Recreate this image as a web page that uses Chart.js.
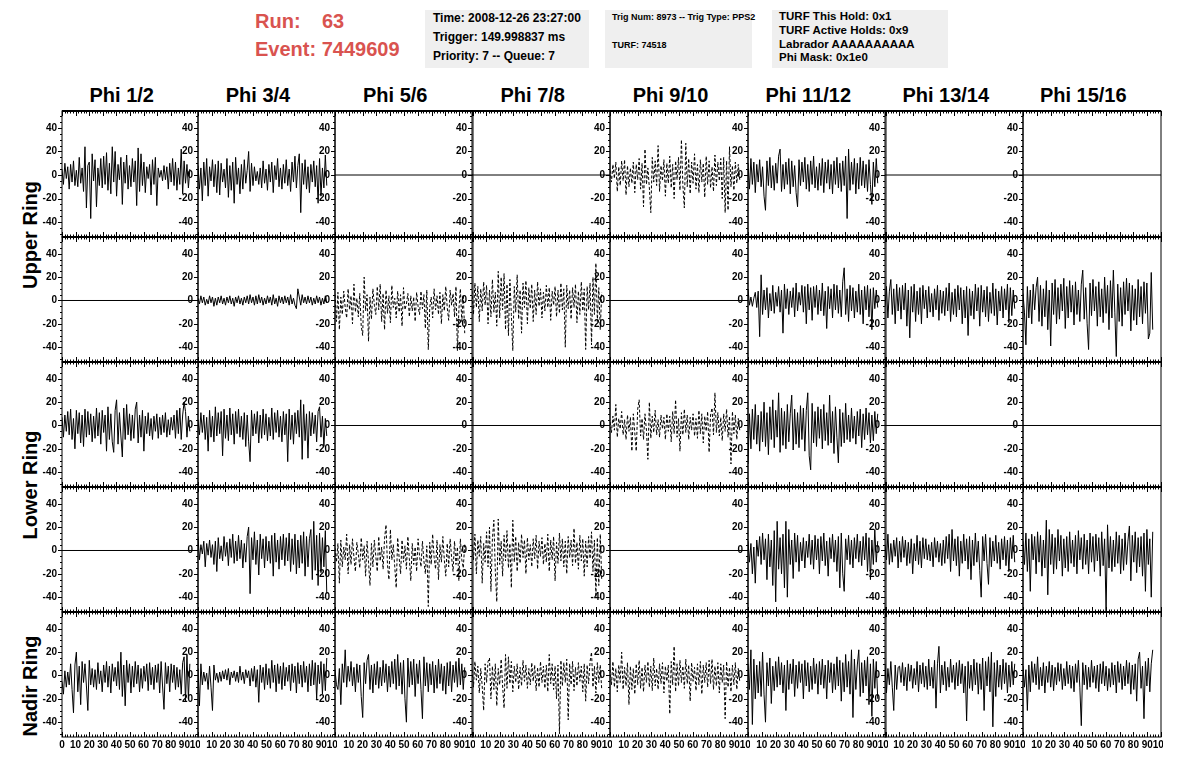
<!DOCTYPE html>
<html>
<head>
<meta charset="utf-8">
<script src="https://cdn.jsdelivr.net/npm/chart.js@4.4.0/dist/chart.umd.min.js"></script>
<style>
  body { margin: 0; background: #fff; width: 1196px; height: 772px; position: relative; overflow: hidden;
         font-family: "Liberation Sans", Arial, sans-serif; }
  .t { position: absolute; white-space: nowrap; color: #000; }
  .box { position: absolute; background: #efefef; }
  .red { color: #d9534f; font-size: 20px; font-weight: bold; }
  .b12 { font-weight: bold; font-size: 12px; }
  .b11 { font-weight: bold; font-size: 11.5px; }
  .b9 { font-weight: bold; font-size: 9px; }
  .col { font-weight: bold; font-size: 20px; transform: translateX(-50%); }
  .ring { font-weight: bold; font-size: 20px; transform: translate(-50%, -50%) rotate(-90deg); }
  canvas { position: absolute; }
</style>
</head>
<body>
<div class="t red" style="left:255px;top:10px">Run:</div>
<div class="t red" style="left:322px;top:10px">63</div>
<div class="t red" style="left:255px;top:38px">Event: 7449609</div>

<div class="box" style="left:425px;top:10px;width:164px;height:58px"></div>
<div class="t b12" style="left:433px;top:11px">Time: 2008-12-26 23:27:00</div>
<div class="t b12" style="left:433px;top:30px">Trigger: 149.998837 ms</div>
<div class="t b12" style="left:433px;top:49px">Priority: 7 -- Queue: 7</div>

<div class="box" style="left:605px;top:10px;width:147px;height:58px"></div>
<div class="t b9" style="left:612px;top:12px">Trig Num: 8973 -- Trig Type: PPS2</div>
<div class="t b9" style="left:612px;top:40px">TURF: 74518</div>

<div class="box" style="left:772px;top:10px;width:176px;height:58px"></div>
<div class="t b11" style="left:779px;top:10px">TURF This Hold: 0x1</div>
<div class="t b11" style="left:779px;top:24px">TURF Active Holds: 0x9</div>
<div class="t b11" style="left:779px;top:38px">Labrador AAAAAAAAAA</div>
<div class="t b11" style="left:779px;top:51px">Phi Mask: 0x1e0</div>

<div id="labels"></div>
<div id="grid"></div>

<script>
// column and row titles
const columnTitles = ['Phi 1/2', 'Phi 3/4', 'Phi 5/6', 'Phi 7/8', 'Phi 9/10', 'Phi 11/12', 'Phi 13/14', 'Phi 15/16'];
const ringTitles = ['Upper Ring', 'Lower Ring', 'Nadir Ring'];

// axis ticks
const xTicks = [0, 10, 20, 30, 40, 50, 60, 70, 80, 90, 100];
const yTicks = [-40, -20, 0, 20, 40];
const Y_MIN = -52.7, Y_MAX = 54.4;

// sample spacing (ns) – 90 samples per trace
const DT = 94 / 89;

// flat channels
const flat = [0, 0];

// Upper ring, top antennas
const u1_12 = [5,-8,10,-3,7,-12,9,-6,12,-9, 4,-10,15,-7,6,-14,24,-28,8,11, -37,18,-5,13,-27,6,-9,14,-11,16,
  -8,19,-13,10,-16,24,-6,20,-18,9, -4,15,-25,11,-7,17,-12,8,-10,14, -6,12,-26,23,-14,18,-9,11,-15,7,
  -3,9,-17,13,-8,15,-26,6,-2,4, -5,8,-4,7,-12,10,-6,14,-9,11, -13,6,-8,22,-16,12,-7,9,-11,5];
const u1_34 = [8,-12,6,-22,11,-9,14,-18,7,-5, 13,-10,9,-15,12,-17,10,-6,5,-11, 14,-19,8,-13,11,-24,15,-8,6,-16,
  9,-12,13,-7,4,20,-14,10,-9,7, -5,3,-8,6,-11,12,-7,5,-13,9, -6,11,-15,8,-4,14,-10,6,-12,9,
  -7,13,-9,5,-14,11,-6,16,-11,8, 18,-32,10,-8,13,-12,7,-15,9,-6, 12,-10,8,-24,14,-18,6,-11,17,-9];
const u1_910 = [4,-6,9,-3,11,-14,7,-9,12,-5, 13,-17,8,-10,6,-7,11,-15,9,-4, 14,-12,10,-27,22,-8,6,-11,-32,15,
  -6,12,-9,25,-14,8,-5,13,-18,10, -7,16,-11,9,-20,12,-4,15,-13,30, -9,-28,27,-10,14,-16,11,-7,18,-12,
  9,-15,13,-6,10,-19,16,-8,12,-11, 7,-14,17,-9,11,-5,14,-20,15,-32, 12,-30,24,-10,8,-13,11,-7,9,-4];
const u1_1112 = [10,-12,14,-8,11,-15,9,-6,13,-10, 7,-18,-30,12,-9,15,-11,8,-13,10, -7,16,22,-14,9,-12,11,-8,14,-16,
  12,-10,8,-15,-27,13,-9,11,-6,15, -12,9,-14,12,-8,16,-11,7,-13,10, -9,14,-15,11,-7,13,-12,9,-16,12,
  -8,15,-11,10,-14,12,-9,16,-37,22, -13,11,-8,14,-16,10,-12,15,-9,12, -11,9,-14,13,-8,-25,11,-10,14,-7];

// Upper ring, bottom antennas
const u2_34 = [2,-3,4,-2,3,-4,1,-3,4,-2, 3,-5,2,-4,3,-2,4,-3,2,-4, 3,-2,4,-3,2,-5,3,-2,4,-3,
  2,-4,3,-2,4,-3,5,-2,3,-4, 4,-3,5,-2,3,-4,2,-3,4,-2, 3,-4,5,-3,2,-5,4,-2,3,-3,
  4,-2,3,-4,5,-3,2,-4,-7,10, 3,-4,5,-2,3,-3,4,-2,3,-4, 2,-3,4,-2,3,-4,2,-3,4,-2];
const u2_56 = [5,-18,7,-25,3,-12,8,-6,-15,10, -8,4,-20,14,-10,2,-14,6,-22,-30, 20,-9,5,-35,3,-16,10,-4,-12,12,
  -8,14,-18,6,-25,9,-11,4,-19,13, -6,2,-15,8,-10,5,-22,11,-8,-3, 6,-14,4,-9,3,-18,7,-5,-12,8,
  -7,5,-24,9,-42,-6,3,-15,10,-8, 4,-12,7,-20,5,-9,12,-6,-17,9, -4,6,-14,12,-43,-8,10,-18,5,-28];
const u2_78 = [8,-12,15,-6,12,-18,10,-9,16,-4, 13,-20,9,-14,18,-10,7,-22,25,-15, 20,-8,23,-25,14,-30,18,-12,-43,12,
  -10,22,-16,9,-28,15,-6,17,-20,11, -7,14,-18,9,-12,16,-5,10,-15,7, -9,13,-6,11,-17,8,-4,12,-14,9,
  -11,15,-8,10,-40,13,-7,9,-16,11, -6,14,-19,8,-12,16,-9,10,-42,12, -8,15,-38,20,-12,32,-18,11,-25,7];
const u2_1112 = [10,-4,3,-5,2,7,-6,8,-31,22, -12,9,-8,11,-15,6,-9,13,-11,7, -5,12,-10,9,-28,14,-7,10,-12,8,
  -6,11,-14,15,-9,7,-4,13,-10,12, -20,14,-8,11,-17,12,-6,13,-12,9, -9,15,-13,8,-24,12,-7,10,-15,14,
  -8,13,-11,9,-14,16,28,-12,10,-18, 13,-9,11,-15,8,-10,14,-12,9,-20, 12,-8,13,-14,10,-25,11,-7,9,-6];
const u2_1314 = [-5,12,-15,8,18,-12,10,-20,14,-9, 11,-16,13,-8,15,-22,9,-32,12,-10, 14,-18,8,-12,11,-20,13,-7,9,-15,
  12,-10,6,-14,10,-8,13,-17,9,-11, 8,-13,11,-9,15,-18,7,-12,10,-14, 13,-8,11,-20,9,-15,12,-30,10,-13,
  8,-16,14,-9,11,-22,13,-10,9,-14, 12,-18,7,-11,15,-13,10,-21,8,-9, 12,-15,10,-8,14,-19,11,-13,9,-7];
const u2_1516 = [6,-10,-38,12,-15,9,-20,14,-8,11, 20,-18,13,-22,10,-14,17,-25,9,-39, 15,-12,18,-20,11,-16,14,-9,19,-24,
  12,-15,17,-10,13,-21,16,-12,9,-18, 14,26,-16,11,-20,-42,15,-13,18,-9, 12,-22,16,-14,10,-19,20,-11,13,-25,
  17,-15,26,-10,-48,14,-18,11,-22,16, -12,19,-9,15,-26,13,-17,10,-21,18, -14,12,-20,16,-11,15,-33,-28,24,-25];

// Lower ring, top antennas
const l1_12 = [7,-10,9,-5,12,-8,14,-12,6,-20, 13,-7,11,-15,9,-18,14,-10,12,-8, 10,-14,8,-11,15,-9,11,-16,13,-6,
  9,-22,16,-12,10,-14,-23,13,22,-16, 11,-9,-27,15,-12,18,-8,10,-13,9, -11,14,20,-15,9,-10,13,-22,8,-7,
  11,-9,6,-12,8,-5,10,-11,7,-8, 9,-6,11,-10,5,-8,7,-4,9,-11, 13,-7,15,-12,9,20,12,-10,8,-5];
const l1_34 = [5,-8,11,-6,9,-12,7,-22,13,-10, 8,-14,16,-9,11,-7,12,-26,14,-11, 9,-13,15,-8,10,-16,12,-7,14,-10,
  8,-12,11,-18,9,-14,-31,13,-9,10, -7,12,-15,9,-11,14,-8,10,-13,7, -9,15,-12,11,-6,13,-10,8,-14,12,
  -8,10,-31,14,-12,9,-16,11,-7,13, -10,22,-29,18,-13,10,-28,12,-9,11, -7,9,-14,12,16,-10,8,-18,6,-9];
const l1_910 = [3,-6,8,-4,18,-10,6,-3,12,-8, 5,-12,9,-5,7,-22,10,-6,-22,14, 22,-9,6,-12,10,-4,-29,20,-11,8,
  -6,13,-8,5,-10,9,-3,7,-12,10, -5,8,-14,12,-7,22,-10,6,-22,11, -8,14,-6,9,-12,7,-4,10,-9,6,
  -11,13,-7,10,-15,8,-5,12,-23,9, 15,-8,28,-6,11,-9,7,-13,10,-5, 14,-10,8,-33,12,-7,9,-12,6,-4];
const l1_1112 = [-33,10,-20,14,-12,18,-16,9,-22,12, -14,20,-18,11,-25,16,-12,22,-19,13, -10,28,-23,15,-17,12,-20,18,-14,10,
  26,-21,14,-16,11,-19,17,-12,15,-22, 13,28,-26,-38,19,-15,12,-18,16,-11, 14,-20,18,-13,11,-17,26,-15,12,-24,
  16,-10,-32,14,-18,11,-15,19,-12,9, -14,15,-11,8,-16,12,-9,14,-19,10, -12,15,-8,11,-15,9,-13,12,-7,10];

// Lower ring, bottom antennas
const l2_34 = [12,-8,5,-3,8,-14,6,-4,9,-6, 5,-12,8,-18,11,-7,4,-9,12,-5, 7,-13,10,-6,14,-11,8,-9,13,-7,
  9,-15,6,-10,12,20,-37,11,-8,16, -12,9,-21,14,-7,10,-15,12,-9,8, -11,13,-22,15,-10,9,-16,12,-8,14,
  -13,11,-9,15,-18,10,-12,14,-20,9, -15,13,-11,16,-22,12,-14,10,18,-25, 25,-17,13,-30,15,-19,11,-14,17,-37];
const l2_56 = [2,-10,6,-28,9,-14,3,-8,14,-20, 5,-12,10,-6,-18,7,-3,-15,11,-8, 4,-22,8,-10,-30,6,-14,9,-5,-18,
  12,-9,3,-16,10,22,-12,-25,18,-8, 5,-14,-32,11,-6,-20,9,-10,4,-16, 12,-7,-26,6,-12,3,-18,10,-5,-14,
  8,-9,-20,4,-48,7,-12,14,-6,-16, 9,-25,5,-10,12,-8,-22,6,-14,10, -6,-18,8,-12,3,-26,10,-8,-15,5];
const l2_78 = [5,-8,14,-20,9,-5,12,-28,6,-10, 16,-14,20,-35,10,26,-18,-44,27,-12, 8,-22,13,-9,17,-15,6,-32,26,-10,
  12,-18,7,-11,14,-6,9,-20,11,-8, 5,-14,10,-7,13,-16,8,-5,11,-12, 6,-10,14,-18,9,-8,12,-26,7,-11,
  15,-9,10,-14,8,-20,12,-6,9,-13, 19,-11,7,-16,13,-9,10,-22,8,-14, 12,-7,16,-18,9,-40,11,-30,14,-25];
const l2_1112 = [8,-10,6,-20,3,-28,9,-5,12,-12, 15,-8,10,-25,14,-14,9,-30,17,-44, 25,-16,11,-20,14,-32,25,-40,18,-12,
  9,-24,15,-10,13,-18,7,-9,11,-15, 8,-6,14,-12,9,-16,13,-8,10,-20, 12,-9,15,-13,8,-22,11,-7,14,-10,
  9,-18,12,-32,15,-20,-35,10,-8,13, -12,9,-15,11,-7,14,-10,8,-13,12, -8,15,-18,11,-25,9,-12,18,-10,8];
const l2_1314 = [5,-8,14,-12,6,-10,9,-5,11,-15, 8,-10,12,-6,9,-13,7,-11,10,-20, 6,-9,13,-12,8,-15,11,-7,10,-8,
  5,-9,7,-14,11,-6,8,-10,6,-13, 9,-11,12,-7,14,-18,18,-9,10,-13, 12,-22,8,-11,14,-9,10,-16,12,-25,
  9,-13,15,-10,8,-17,-40,12,-9,14, -11,-29,11,-14,8,-9,13,-11,7,-16, 10,-8,12,-13,9,-18,11,-7,13,-10];
const l2_1516 = [8,-12,15,-18,10,-35,14,-8,12,-20, 16,-10,13,-22,9,-15,26,-38,18,-12, 14,-20,11,-16,18,-9,13,-22,10,-15,
  12,-18,16,-11,9,-14,13,-20,17,-8, 11,-16,14,-12,9,-20,15,-10,12,-18, 14,-9,11,-22,16,-13,10,-53,22,-15,
  12,-18,9,-14,16,-11,13,-20,10,-17, 15,-12,8,21,-26,13,-10,16,-19,11, -14,12,-22,15,-35,18,-12,10,-40,16];

// Nadir ring
const n_12 = [-5,-16,4,-10,3,-8,10,-12,-32,9, 20,-14,8,-25,12,-6,10,-9,-30,13, -8,6,-10,5,-12,11,-7,4,-14,9,
  -6,12,-10,8,-15,10,-5,7,-9,12, -12,20,-18,9,-26,13,-6,10,-15,8, -10,12,-7,9,-14,6,-11,8,-5,10,
  -13,11,-8,7,-12,9,-6,10,-15,12, -9,-29,11,-7,8,-14,10,-6,9,-12, 7,-10,5,-16,11,16,-22,18,-20,10];
const n_34 = [6,-26,10,-8,3,-5,2,-12,8,-10, -30,9,-4,2,-6,3,-5,4,-3,5, -4,6,-8,3,-2,4,-5,3,-6,8,
  -4,3,-7,5,-2,4,-9,6,-5,8, -10,5,-23,9,-6,7,-12,10,-8,6, -11,13,-6,9,-14,10,-7,8,-12,11,
  -9,7,-5,9,-13,10,-6,8,-15,11, -7,9,-10,12,-6,8,-14,10,-9,13, -8,11,-20,9,-7,12,-16,10,-13,15];
const n_56 = [5,-8,-12,6,-25,10,-6,22,-10,8, -5,12,-9,7,-14,10,-6,9,-18,-36, 11,-7,13,18,-12,9,-15,10,-8,12,
  -11,7,-9,13,-6,10,-14,8,-10,12, -7,14,-12,18,-9,11,-16,13,-20,-40, 15,-10,12,-8,14,-18,10,-7,13,-12,
  -37,16,-9,11,-14,10,-8,12,-15,9, -11,14,-7,10,-13,8,-16,11,-9,12, -14,9,-6,12,-10,15,-8,10,-12,7];
const n_78 = [5,-10,12,-4,8,-15,6,-9,-30,10, -6,12,15,-20,8,-12,10,-26,6,-8, 14,-9,-28,18,-11,16,-7,12,-14,8,
  -6,10,-12,7,-9,13,-5,9,-11,6, -8,11,-5,9,-13,7,-10,12,-6,8, -11,9,-14,18,-7,10,-12,8,-20,9,
  -50,13,-9,11,-6,14,-38,10,-8,12, -13,7,-9,11,-5,8,-14,10,-22,9, -7,12,20,-10,8,-15,11,-6,9,-12];
const n_910 = [5,-8,12,-10,6,-14,9,-6,20,-12, 7,-9,11,-25,8,-12,6,-16,10,-8, 13,-11,7,-14,9,-6,12,-10,8,-13,
  15,-9,6,-12,10,-7,11,-15,8,-5, 9,-33,12,-8,25,-14,10,-9,13,-6, 8,-11,14,-7,9,-22,11,-5,7,-13,
  10,-8,12,-16,9,-6,11,-10,13,-7, 14,-12,8,-9,11,-15,10,-6,9,-37, 12,-10,7,-14,9,-8,11,-12,6,-5];
const n_1112 = [10,-12,22,-42,14,-20,9,-15,12,-18, 20,-16,-40,11,-9,15,-24,8,-13,12, -10,16,-8,11,-15,9,-30,13,-12,10,
  -7,14,-18,9,-11,12,-6,10,-20,13, -9,11,-14,8,-12,15,-7,10,-16,12, -8,14,-11,9,-20,13,-6,11,-15,10,
  -12,16,-9,13,-22,11,-14,18,-10,12, -16,22,-36,14,-12,9,22,-18,11,-15, 13,-9,16,-25,10,-35,14,-11,12,-20];
const n_1314 = [10,-15,6,-8,12,-10,-30,9,-12,7, 8,-6,11,-9,7,-13,10,-5,9,-11, 6,-8,12,-14,9,-7,11,-10,8,-12,
  14,-9,7,-11,13,-28,10,25,-15,9, -8,12,-13,7,-10,14,-6,9,-12,11, -9,13,-7,10,-15,8,-39,12,-11,9,
  -13,14,-8,11,-16,10,-12,15,-30,12, -9,16,-14,20,-44,11,-18,13,-10,9, -12,14,-7,11,-15,9,-10,12,-8,10];
const n_1516 = [8,-10,5,-30,9,-14,12,-6,10,-8, 16,-12,7,-9,11,-15,8,-6,12,-10, 9,-13,7,-8,11,-5,10,-12,6,-9,
  12,-7,9,-11,8,-14,10,-6,13,-10, -43,11,-8,9,-12,7,-10,13,-6,8, -11,9,-14,10,-7,12,-9,8,-13,6,
  -10,11,-8,9,-15,12,-6,10,-12,8, -9,13,-7,11,-16,9,-12,10,-22,14, 20,-11,8,-37,12,-9,15,-14,10,22];

const traces = [
  [u1_12, u1_34, flat, flat, u1_910, u1_1112, flat, flat],
  [flat, u2_34, u2_56, u2_78, flat, u2_1112, u2_1314, u2_1516],
  [l1_12, l1_34, flat, flat, l1_910, l1_1112, flat, flat],
  [flat, l2_34, l2_56, l2_78, flat, l2_1112, l2_1314, l2_1516],
  [n_12, n_34, n_56, n_78, n_910, n_1112, n_1314, n_1516]
];
const dashed = [
  [0, 0, 0, 0, 1, 0, 0, 0],
  [0, 0, 1, 1, 0, 0, 0, 0],
  [0, 0, 0, 0, 1, 0, 0, 0],
  [0, 0, 1, 1, 0, 0, 0, 0],
  [0, 0, 0, 1, 1, 0, 0, 0]
];

// pad layout on the page
const COL_X = [62, 197.5, 334.5, 472, 609.5, 747.5, 885, 1022.5, 1160];
const ROW_Y = [111, 236.5, 361.5, 486.5, 611.5, 736.5];
const PADL = 30, PADT = 2, PADR = 2, XAX = 20;
const FONT = { family: 'Liberation Sans', weight: 'bold', size: 10 };

const labels = document.getElementById('labels');
columnTitles.forEach((t, c) => {
  const d = document.createElement('div');
  d.className = 't col';
  d.textContent = t;
  d.style.left = ((COL_X[c] + COL_X[c + 1]) / 2 - 8) + 'px';
  d.style.top = '84px';
  labels.appendChild(d);
});
[[30, 235], [30, 485], [30, 686]].forEach((p, i) => {
  const d = document.createElement('div');
  d.className = 't ring';
  d.textContent = ringTitles[i];
  d.style.left = p[0] + 'px';
  d.style.top = p[1] + 'px';
  labels.appendChild(d);
});

// frame and ROOT-like ticks
const frameTicks = {
  id: 'frameTicks',
  afterDraw(chart) {
    const { ctx, chartArea: a, scales: { x, y } } = chart;
    ctx.save();
    ctx.strokeStyle = '#000';
    ctx.lineWidth = 1;
    ctx.beginPath();
    for (let v = 0; v <= 100; v += 2) {
      const px = Math.round(x.getPixelForValue(v)) + 0.5;
      const len = v % 10 === 0 ? 5 : 2.5;
      ctx.moveTo(px, a.bottom); ctx.lineTo(px, a.bottom - len);
      ctx.moveTo(px, a.top); ctx.lineTo(px, a.top + len);
    }
    for (let v = -50; v <= 50; v += 5) {
      const py = Math.round(y.getPixelForValue(v)) + 0.5;
      const len = v % 20 === 0 ? 4 : 2;
      ctx.moveTo(a.left, py); ctx.lineTo(a.left - len, py);
    }
    ctx.stroke();
    ctx.strokeRect(a.left, a.top, a.right - a.left, a.bottom - a.top);
    ctx.lineWidth = 2;
    ctx.beginPath();
    ctx.moveTo(a.left, a.top); ctx.lineTo(a.right, a.top);
    ctx.stroke();
    ctx.restore();
  }
};

const noPad = s => { s.paddingLeft = 0; s.paddingRight = 0; s.paddingTop = 0; s.paddingBottom = 0; };

const grid = document.getElementById('grid');
for (let r = 0; r < 5; r++) {
  for (let c = 0; c < 8; c++) {
    const last = r === 4;
    const w = COL_X[c + 1] - COL_X[c] + PADL + PADR;
    const h = ROW_Y[r + 1] - ROW_Y[r] + PADT + (last ? XAX : 2);
    const cv = document.createElement('canvas');
    cv.width = Math.round(w);
    cv.height = Math.round(h);
    cv.style.left = (COL_X[c] - PADL) + 'px';
    cv.style.top = (ROW_Y[r] - PADT) + 'px';
    grid.appendChild(cv);

    const vals = traces[r][c];
    const pts = vals === flat
      ? [{ x: 0, y: flat[0] }, { x: 100, y: flat[1] }]
      : vals.map((v, i) => ({ x: i * DT, y: v }));

    new Chart(cv, {
      type: 'line',
      data: {
        datasets: [{
          data: pts,
          borderColor: '#000',
          borderWidth: 1,
          borderDash: dashed[r][c] ? [3, 2] : [],
          pointRadius: 0,
          pointHoverRadius: 0,
          tension: 0,
          fill: false
        }]
      },
      options: {
        responsive: false,
        animation: false,
        events: [],
        layout: { autoPadding: false, padding: { top: PADT, right: PADR, bottom: last ? 0 : 2, left: 0 } },
        plugins: { legend: { display: false }, tooltip: { enabled: false } },
        scales: {
          x: {
            type: 'linear', min: 0, max: 100,
            display: last,
            grid: { display: false, drawTicks: false },
            border: { display: false },
            afterBuildTicks: s => { s.ticks = xTicks.map(v => ({ value: v })); },
            afterFit: s => { s.height = last ? XAX : 0; noPad(s); },
            ticks: {
              autoSkip: false, maxRotation: 0, padding: 2, color: '#000', font: FONT,
              callback: v => (v === 0 && c > 0) ? '' : String(v)
            }
          },
          y: {
            type: 'linear', min: Y_MIN, max: Y_MAX, position: 'left',
            grid: { display: false, drawTicks: false },
            border: { display: false },
            afterBuildTicks: s => { s.ticks = yTicks.map(v => ({ value: v })); },
            afterFit: s => { s.width = PADL; noPad(s); },
            ticks: { autoSkip: false, padding: 5, color: '#000', font: FONT }
          }
        }
      },
      plugins: [frameTicks]
    });
  }
}
</script>
</body>
</html>
